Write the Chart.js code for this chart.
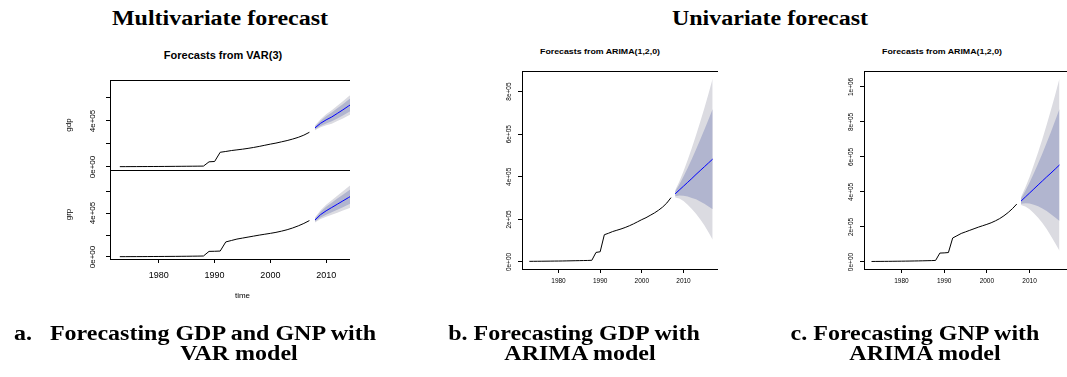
<!DOCTYPE html>
<html>
<head>
<meta charset="utf-8">
<script src="https://cdn.jsdelivr.net/npm/chart.js@4.4.0/dist/chart.umd.min.js"></script>
<style>
  body { margin: 0; background: #fff; }
  #page { position: relative; width: 1067px; height: 377px; overflow: hidden; background: #fff; }
  .clip { position: absolute; left: 0; top: 0; height: 377px; overflow: hidden; }
  .clip canvas { position: absolute; }
  .head, .cap {
    position: absolute; white-space: nowrap; font-family: "Liberation Serif", "Times New Roman", serif;
    font-weight: bold; font-size: 20px; line-height: 20px; color: #000;
    transform: translateX(-50%) scaleX(1.2);
  }
  .sub {
    position: absolute; white-space: nowrap; font-family: "Liberation Sans", Arial, sans-serif;
    font-weight: bold; color: #000; transform: translateX(-50%) scaleX(1.1);
  }
</style>
</head>
<body>
<div id="page">
  <div class="head" style="left:220px; top:8px">Multivariate forecast</div>
  <div class="head" style="left:770px; top:8px">Univariate forecast</div>

  <div class="sub" style="left:223px; top:50px; font-size:10px; line-height:12px">Forecasts from VAR(3)</div>
  <div class="sub" style="left:600px; top:47px; font-size:8px; line-height:10px">Forecasts from ARIMA(1,2,0)</div>
  <div class="sub" style="left:942px; top:47px; font-size:8px; line-height:10px">Forecasts from ARIMA(1,2,0)</div>

  <div class="clip" style="width:350px"><canvas id="varGdp"></canvas><canvas id="varGnp"></canvas></div>
  <div class="clip" style="width:718px"><canvas id="arGdp"></canvas></div>
  <div class="clip" style="width:1067px"><canvas id="arGnp"></canvas></div>

  <div class="cap" style="left:195px; top:323px">a.&nbsp;&nbsp; Forecasting GDP and GNP with</div>
  <div class="cap" style="left:239px; top:343px">VAR model</div>
  <div class="cap" style="left:574px; top:323px">b. Forecasting GDP with</div>
  <div class="cap" style="left:580px; top:343px">ARIMA model</div>
  <div class="cap" style="left:915px; top:323px">c. Forecasting GNP with</div>
  <div class="cap" style="left:925px; top:343px">ARIMA model</div>
</div>

<script>
// ---- observed series ----
const histYears = [1973, 1974, 1975, 1976, 1977, 1978, 1979, 1980, 1981, 1982, 1983, 1984,
  1985, 1986, 1987, 1988, 1989, 1990, 1991, 1992, 1993, 1994, 1995, 1996, 1997, 1998,
  1999, 2000, 2001, 2002, 2003, 2004, 2005, 2006, 2007];
const gdp = [3000, 3200, 3400, 3600, 3800, 4000, 4300, 4500, 4800, 5200, 5600, 6000,
  6400, 6800, 7200, 8000, 45000, 48000, 128000, 135000, 143000, 149000, 155000, 162000,
  170000, 179000, 189000, 199000, 208000, 219000, 230000, 243000, 258000, 277000, 302000];
const gnp = [3000, 3200, 3400, 3600, 3800, 4100, 4400, 4700, 5000, 5400, 5800, 6300,
  6800, 7400, 8000, 9000, 51000, 52000, 54000, 137000, 150000, 163000, 172000, 181000,
  190000, 199000, 207000, 215000, 224000, 235000, 248000, 264000, 283000, 305000, 331000];

// ---- forecast horizon ----
const fcYears = [2008, 2009, 2010, 2011, 2012, 2013, 2014, 2015, 2016, 2017];

// VAR(3) forecasts
const varGdpMean = [340000, 380000, 410000, 435000, 466000, 497000, 530000, 561000, 592000, 623000];
const varGdpLo80 = [327000, 357000, 379000, 397000, 422000, 448000, 476000, 502000, 529000, 555000];
const varGdpHi80 = [353000, 403000, 441000, 473000, 510000, 546000, 584000, 620000, 655000, 691000];
const varGdpLo95 = [320000, 345000, 362000, 377000, 399000, 422000, 447000, 471000, 495000, 518000];
const varGdpHi95 = [360000, 415000, 458000, 493000, 533000, 572000, 613000, 651000, 689000, 728000];

const varGnpMean = [336000, 385000, 420000, 450000, 480000, 510000, 540000, 570000, 600000, 630000];
const varGnpLo80 = [322000, 359000, 384000, 406000, 429000, 453000, 477000, 501000, 525000, 549000];
const varGnpHi80 = [350000, 411000, 456000, 494000, 531000, 567000, 603000, 639000, 675000, 711000];
const varGnpLo95 = [314000, 345000, 365000, 383000, 402000, 422000, 442000, 463000, 484000, 505000];
const varGnpHi95 = [358000, 425000, 475000, 517000, 558000, 598000, 638000, 677000, 716000, 755000];

// ARIMA(1,2,0) forecasts
const arGdpMean = [320000, 338000, 356000, 374000, 392000, 411000, 429000, 447000, 465000, 483000];
const arGdpLo80 = [309000, 312000, 311000, 307000, 301000, 294000, 284000, 273000, 261000, 248000];
const arGdpHi80 = [331000, 364000, 401000, 441000, 483000, 528000, 574000, 621000, 669000, 718000];
const arGdpLo95 = [303000, 298000, 286000, 269000, 249000, 227000, 201000, 172000, 140000, 104000];
const arGdpHi95 = [337000, 378000, 426000, 479000, 535000, 595000, 657000, 722000, 790000, 862000];

const arGnpMean = [348000, 371000, 394000, 417000, 440000, 463000, 486000, 508000, 531000, 554000];
const arGnpLo80 = [333000, 336000, 334000, 327000, 318000, 306000, 291000, 273000, 254000, 234000];
const arGnpHi80 = [363000, 406000, 454000, 507000, 562000, 620000, 681000, 743000, 808000, 874000];
const arGnpLo95 = [325000, 317000, 302000, 279000, 253000, 223000, 188000, 148000, 107000, 64000];
const arGnpHi95 = [371000, 425000, 486000, 555000, 627000, 703000, 784000, 868000, 955000, 1048000];

// ---- ticks ----
const xTicks = [1980, 1990, 2000, 2010];
const xTickLabels = ['1980', '1990', '2000', '2010'];
const varYTicks = [0, 200000, 400000, 600000];
const varYLabels = ['0e+00', '', '4e+05', ''];
const gdpYTicks = [0, 200000, 400000, 600000, 800000];
const gdpYLabels = ['0e+00', '2e+05', '4e+05', '6e+05', '8e+05'];
const gnpYTicks = [0, 200000, 400000, 600000, 800000, 1000000];
const gnpYLabels = ['0e+00', '2e+05', '4e+05', '6e+05', '8e+05', '1e+06'];

Chart.defaults.font.family = "'Liberation Sans', Arial, sans-serif";
Chart.defaults.color = '#000';
Chart.defaults.animation = false;

const PAD = 8;
const X_MIN = 1971.24, X_MAX = 2018.76;

// box around the plot region, like R's box()
const framePlugin = {
  id: 'frame',
  afterDraw(chart) {
    const a = chart.chartArea;
    const ctx = chart.ctx;
    ctx.save();
    ctx.strokeStyle = '#000';
    ctx.lineWidth = 1;
    ctx.strokeRect(a.left + 0.5, a.top + 0.5, a.right - a.left, a.bottom - a.top);
    ctx.restore();
  }
};

function pts(xs, ys) {
  return xs.map((x, i) => ({ x: x, y: ys[i] }));
}

function seriesSets(hist, mean, lo80, hi80, lo95, hi95) {
  const base = { pointRadius: 0, borderWidth: 1, tension: 0, fill: false };
  const none = 'rgba(0,0,0,0)';
  return [
    { ...base, data: pts(histYears, hist), borderColor: '#000000', order: 0 },
    { ...base, data: pts(fcYears, mean), borderColor: '#0000ff', order: 0 },
    { ...base, data: pts(fcYears, lo95), borderColor: none, order: 3 },
    { ...base, data: pts(fcYears, hi95), borderColor: none, fill: '-1', backgroundColor: '#dbdbe1', order: 3 },
    { ...base, data: pts(fcYears, lo80), borderColor: none, order: 2 },
    { ...base, data: pts(fcYears, hi80), borderColor: none, fill: '-1', backgroundColor: '#b1b5cf', order: 2 }
  ];
}

function makeChart(id, area, cfg) {
  const cv = document.getElementById(id);
  cv.width = area.right - area.left + cfg.yW + 2 * PAD;
  cv.height = area.bottom - area.top + cfg.xH + 2 * PAD;
  cv.style.left = (area.left - cfg.yW - PAD) + 'px';
  cv.style.top = (area.top - PAD) + 'px';

  const tickGrid = { display: true, drawOnChartArea: false, drawTicks: true, tickLength: 4, color: '#000', lineWidth: 1 };

  return new Chart(cv, {
    type: 'line',
    data: { datasets: cfg.datasets },
    plugins: [framePlugin],
    options: {
      responsive: false,
      events: [],
      layout: { padding: PAD },
      plugins: { legend: { display: false }, tooltip: { enabled: false } },
      scales: {
        x: {
          type: 'linear',
          display: cfg.showX,
          min: X_MIN,
          max: X_MAX,
          grid: tickGrid,
          border: { display: false },
          afterBuildTicks: s => { s.ticks = xTicks.map(v => ({ value: v })); },
          afterFit: s => { s.height = cfg.xH; },
          ticks: {
            autoSkip: false,
            maxRotation: 0,
            padding: cfg.xPad,
            font: { size: cfg.xFont },
            callback: (v, i) => xTickLabels[i]
          },
          title: {
            display: !!cfg.xTitle,
            text: cfg.xTitle || '',
            font: { size: 8 },
            padding: { top: 0, bottom: 3 }
          }
        },
        y: {
          type: 'linear',
          min: cfg.yMin,
          max: cfg.yMax,
          grid: tickGrid,
          border: { display: false },
          afterBuildTicks: s => { s.ticks = cfg.yTicks.map(v => ({ value: v })); },
          afterFit: s => { s.width = cfg.yW; },
          ticks: {
            autoSkip: false,
            minRotation: 90,
            maxRotation: 90,
            crossAlign: 'center',
            padding: cfg.yPad,
            font: { size: cfg.yFont },
            callback: (v, i) => cfg.yLabels[i]
          },
          title: {
            display: !!cfg.yTitle,
            text: cfg.yTitle || '',
            font: { size: 8 },
            padding: { top: 0, bottom: 0 }
          }
        }
      }
    }
  });
}

// Multivariate: VAR(3), two stacked panels
makeChart('varGdp', { left: 110, top: 80, right: 375, bottom: 170 }, {
  yW: 46, xH: 0, showX: false, xPad: 0, xFont: 9,
  yMin: -26100, yMax: 756500, yTicks: varYTicks, yLabels: varYLabels, yFont: 8, yPad: 2, yTitle: 'gdp',
  datasets: seriesSets(gdp, varGdpMean, varGdpLo80, varGdpHi80, varGdpLo95, varGdpHi95)
});
makeChart('varGnp', { left: 110, top: 170, right: 375, bottom: 259 }, {
  yW: 46, xH: 45, showX: true, xPad: 7, xFont: 9, xTitle: 'time',
  yMin: -18200, yMax: 791000, yTicks: varYTicks, yLabels: varYLabels, yFont: 8, yPad: 2, yTitle: 'grp',
  datasets: seriesSets(gnp, varGnpMean, varGnpLo80, varGnpHi80, varGnpLo95, varGnpHi95)
});

// Univariate: ARIMA(1,2,0)
makeChart('arGdp', { left: 522, top: 71, right: 720, bottom: 269 }, {
  yW: 30, xH: 22, showX: true, xPad: 4, xFont: 6.5,
  yMin: -32900, yMax: 896700, yTicks: gdpYTicks, yLabels: gdpYLabels, yFont: 6.5, yPad: 0,
  datasets: seriesSets(gdp, arGdpMean, arGdpLo80, arGdpHi80, arGdpLo95, arGdpHi95)
});
makeChart('arGnp', { left: 864, top: 71, right: 1067, bottom: 269 }, {
  yW: 30, xH: 22, showX: true, xPad: 4, xFont: 6.5,
  yMin: -40000, yMax: 1091000, yTicks: gnpYTicks, yLabels: gnpYLabels, yFont: 6.5, yPad: 0,
  datasets: seriesSets(gnp, arGnpMean, arGnpLo80, arGnpHi80, arGnpLo95, arGnpHi95)
});
</script>
</body>
</html>
